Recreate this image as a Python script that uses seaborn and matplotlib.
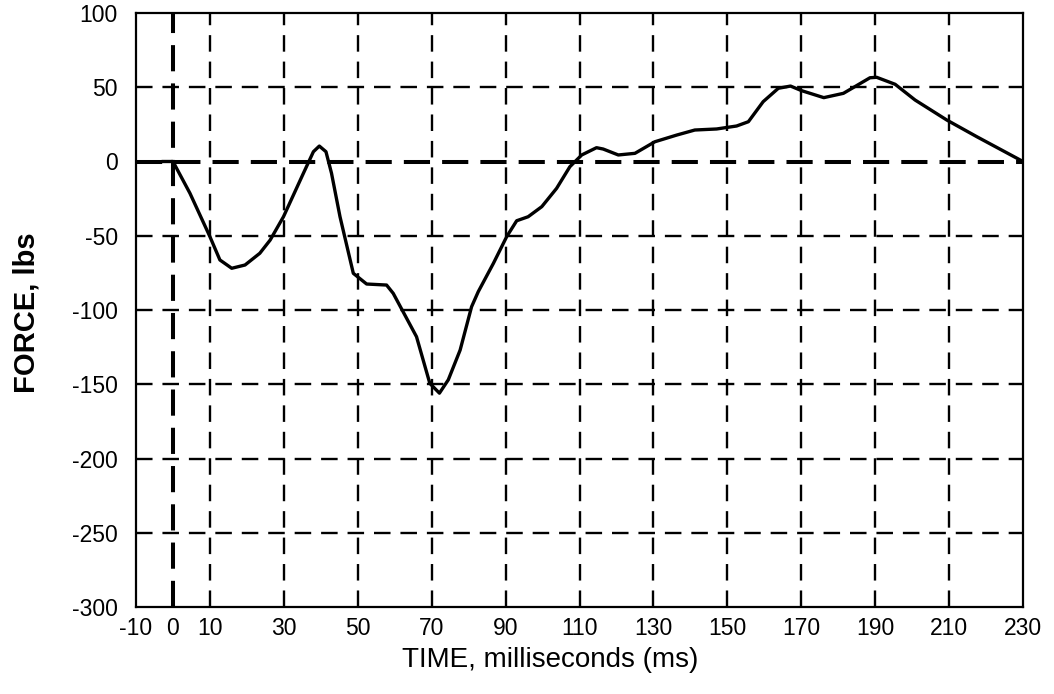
import matplotlib
matplotlib.use("Agg")
import matplotlib.pyplot as plt
import seaborn as sns
import pandas as pd

time_ms = [-3, 0, 4.6, 10, 12.7, 15.9, 19.5, 23.5, 26.3, 29.9, 35.3, 38, 39.6, 41.4, 42.9,
           45.2, 48.8, 52.4, 57.8, 59.6, 65.9, 69.5, 72.1, 74.5, 77.7, 80.8, 82.6, 86.7,
           90.3, 93, 96.1, 99.8, 103.8, 107.4, 110.6, 114.6, 116.4, 120.5, 125, 130.4,
           136.3, 141.2, 147.1, 152.5, 155.7, 159.7, 163.8, 167.1, 170.1, 176.1, 181.4,
           184.5, 188.6, 190.4, 195.4, 200.8, 209.4, 217.5, 230]
force_lbs = [0, 0, -21.4, -50.6, -66.3, -71.9, -69.7, -61.8, -52.9, -37.2, -7.9, 6.6, 10.4, 6.6, -7.9,
             -37.2, -75.3, -82.5, -83.2, -88.8, -118, -149.4, -156, -147, -127, -97.8, -87.7, -68.6,
             -50.6, -39.9, -37.2, -30.4, -18.1, -3.5, 4.4, 9.3, 8.4, 4.4, 5.5, 13.3,
             17.8, 21.2, 21.9, 23.9, 26.8, 40.3, 49.3, 50.8, 47.7, 43, 45.9,
             50.4, 56.4, 56.7, 52, 41.4, 27.9, 16.7, 0]
x_ticks = [-10, 0, 10, 30, 50, 70, 90, 110, 130, 150, 170, 190, 210, 230]
y_ticks = [-300, -250, -200, -150, -100, -50, 0, 50, 100]

df = pd.DataFrame({"time": time_ms, "force": force_lbs})

sns.set_theme(style="white")
plt.rcParams['font.family'] = ['Liberation Sans', 'DejaVu Sans']

fig = plt.figure(figsize=(10.54, 6.94), dpi=100)
ax = fig.add_axes([136/1054, 1-607/694, (1023-136)/1054, (607-13)/694])

ax.set_xlim(-10, 230)
ax.set_ylim(-300, 100)
ax.set_xticks(x_ticks)
ax.set_yticks(y_ticks)
ax.set_xticklabels([str(t) for t in x_ticks])
ax.set_yticklabels([str(t) for t in y_ticks])

grid_kw = dict(color="black", linewidth=1.7, linestyle=(0, (7, 4.2)), zorder=1)
zero_kw = dict(color="black", linewidth=2.9, linestyle=(0, (6.5, 3)), zorder=1.5)
for t in x_ticks[1:-1]:
    ax.axvline(t, **(zero_kw if t == 0 else grid_kw))
for t in y_ticks[1:-1]:
    ax.axhline(t, **(zero_kw if t == 0 else grid_kw))

sns.lineplot(data=df, x="time", y="force", ax=ax, color="black", linewidth=2.4,
             sort=False, zorder=3)

for s in ax.spines.values():
    s.set_color("black")
    s.set_linewidth(1.6)
    s.set_visible(True)
    s.set_zorder(4)

ax.tick_params(axis="both", length=0, labelsize=16.5, colors="black")
ax.tick_params(axis="x", pad=7)
ax.tick_params(axis="y", pad=13)
ax.set_xlabel("TIME, milliseconds (ms)", fontsize=20, color="black")
ax.set_ylabel("FORCE, lbs", fontsize=21, fontweight="bold", color="black")
ax.xaxis.set_label_coords(0.467, -0.067)
ax.yaxis.set_label_coords(-0.108, 0.496)

fig.savefig("out.png", dpi=100, facecolor="white")
